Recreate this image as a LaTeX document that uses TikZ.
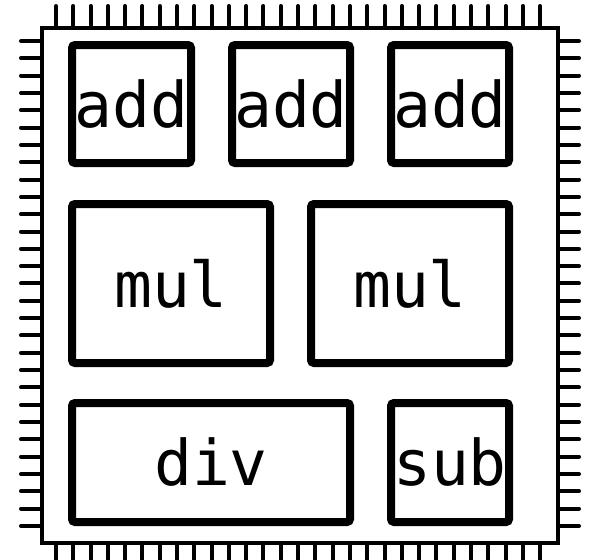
\documentclass[tikz,border=0pt]{standalone}
\usepackage{fontspec}
\newfontfamily\chipfont{DejaVu Sans Mono}

\begin{document}
\begin{tikzpicture}[x=1pt,y=-1pt,
    unit/.style={draw,line width=8pt,rounded corners=3pt,inner sep=0pt,
        font=\chipfont\fontsize{63}{63}\selectfont},
    pin/.style={line width=4pt,line cap=round}]
    \useasboundingbox (0,0) rectangle (590,560);
    % --- CHIP OUTLINE ---
    \node[draw,line width=4pt,inner sep=0pt,minimum width=516pt,minimum height=515pt] (chip) at (300,285.5) {};
    \foreach \i in {0,...,28} {
        \draw[pin] (chip.north west) ++(16+\i*17.29,0) -- ++(0,-20);
        \draw[pin] (chip.south west) ++(16+\i*17.29,0) -- ++(0,20);
        \draw[pin] (chip.north west) ++(0,15+\i*17.32) -- ++(-19,0);
        \draw[pin] (chip.north east) ++(0,15+\i*17.32) -- ++(19,0);
    }

    % --- FUNCTIONAL UNITS ---
    \node[unit,minimum width=119pt,minimum height=118pt] (addA) at (131.5,104) {add};
    \node[unit,minimum width=118pt,minimum height=118pt] (addB) at (291,104) {add};
    \node[unit,minimum width=118pt,minimum height=118pt] (addC) at (450,104) {add};
    \node[unit,minimum width=198pt,minimum height=159pt] (mulA) at (171,283.5) {mul};
    \node[unit,minimum width=198pt,minimum height=159pt] (mulB) at (410,283.5) {mul};
    \node[unit,minimum width=278pt,minimum height=119pt] (div) at (211,462.5) {div};
    \node[unit,minimum width=118pt,minimum height=119pt] (sub) at (450,462.5) {sub};
\end{tikzpicture}
\end{document}
